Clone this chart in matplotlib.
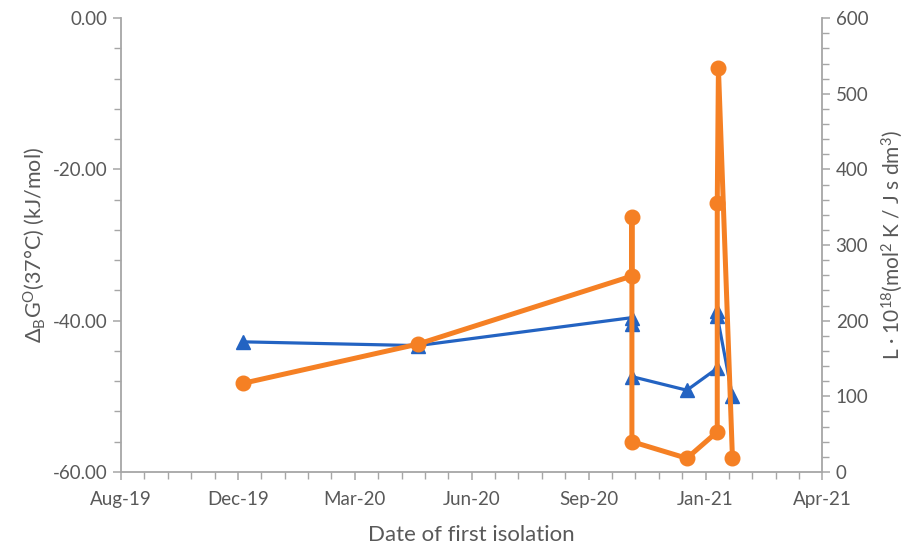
import pandas as pd
import matplotlib
matplotlib.use("Agg")
import matplotlib.pyplot as plt
import matplotlib.dates as mdates
from matplotlib.ticker import MultipleLocator, FormatStrFormatter

plt.rcParams['font.family'] = ['Lato', 'DejaVu Sans']
plt.rcParams['mathtext.fontset'] = 'custom'
plt.rcParams['mathtext.rm'] = 'Lato'
plt.rcParams['mathtext.it'] = 'Lato:italic'

# delta G (left axis), blue triangles
dg_dates = ['2019-12-07', '2020-05-05', '2020-11-04', '2020-11-04', '2020-11-04',
            '2020-12-21', '2021-01-16', '2021-01-16', '2021-01-16', '2021-01-29']
dg_values = [-42.8, -43.3, -39.6, -40.5, -47.4, -49.2, -46.3, -38.7, -39.4, -50.0]

# L * 10^18 (right axis), orange circles
l_dates = ['2019-12-07', '2020-05-05', '2020-11-04', '2020-11-04', '2020-11-04',
           '2020-12-21', '2021-01-16', '2021-01-16', '2021-01-17', '2021-01-29']
l_values = [117, 169, 259, 337, 40, 18, 53, 355, 534, 18]

x_start = pd.Timestamp('2019-08-25')
x_end = pd.Timestamp('2021-04-16')

blue = '#2363C2'
orange = '#F58024'
grey = '#A6A6A6'
text_grey = '#595959'

fig = plt.figure(figsize=(9.2, 5.5), dpi=100)
ax1 = fig.add_axes([0.1315, 0.142, 0.7625, 0.825])
ax2 = ax1.twinx()

ax1.plot(pd.to_datetime(dg_dates), dg_values, color=blue, lw=2.3,
         marker='^', markersize=9.5, zorder=3)
ax2.plot(pd.to_datetime(l_dates), l_values, color=orange, lw=3.6,
         marker='o', markersize=10.5, zorder=3)

ax1.set_xlim(x_start, x_end)
ax1.set_ylim(-60, 0)
ax2.set_ylim(0, 600)

major = pd.date_range(x_start, periods=7, freq='100D')
minor = pd.date_range(x_start, x_end, freq='20D')
ax1.set_xticks(major)
ax1.set_xticks(minor, minor=True)
ax1.xaxis.set_major_formatter(mdates.DateFormatter('%b-%y'))

ax1.yaxis.set_major_locator(MultipleLocator(20))
ax1.yaxis.set_minor_locator(MultipleLocator(4))
ax1.yaxis.set_major_formatter(FormatStrFormatter('%.2f'))
ax2.yaxis.set_major_locator(MultipleLocator(100))
ax2.yaxis.set_minor_locator(MultipleLocator(20))

for ax in (ax1, ax2):
    ax.spines['top'].set_visible(False)
    for s in ('left', 'right', 'bottom'):
        ax.spines[s].set_color(grey)
        ax.spines[s].set_linewidth(1.3)
    ax.tick_params(which='both', colors=grey, labelcolor=text_grey,
                   labelsize=13.5, direction='out')
    ax.tick_params(which='major', length=6, width=1.1)
    ax.tick_params(which='minor', length=5, width=1.0)
ax1.spines['right'].set_visible(False)
ax2.spines['left'].set_visible(False)
ax2.spines['bottom'].set_visible(False)
ax1.tick_params(axis='x', pad=8)

ax1.set_xlabel('Date of first isolation', fontsize=16, color=text_grey, labelpad=12)
ax1.set_ylabel(r'$\Delta_{\mathrm{B}}\mathrm{G}^{\mathrm{O}}$(37°C) (kJ/mol)',
               fontsize=15.5, color=text_grey, labelpad=4)
ax2.set_ylabel(r'L · 10$^{18}$(mol$^{2}$ K / J s dm$^{3}$)',
               fontsize=15, color=text_grey, labelpad=8)

fig.savefig('out.png', dpi=100)
